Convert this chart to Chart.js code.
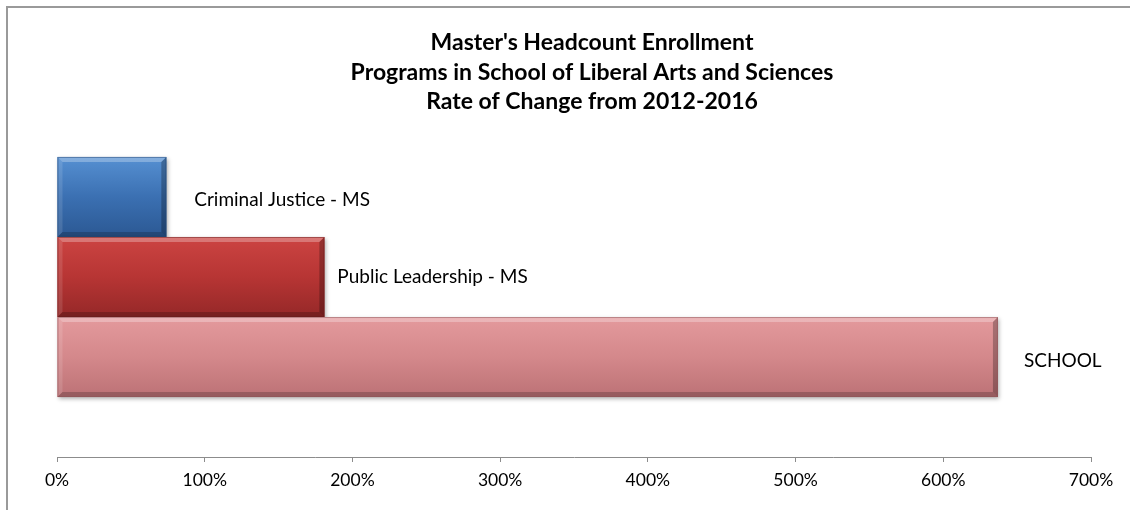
<!DOCTYPE html>
<html>
<head>
<meta charset="utf-8">
<script src="https://cdn.jsdelivr.net/npm/chart.js@4/dist/chart.umd.min.js"></script>
<style>
  html, body { margin: 0; padding: 0; background: #ffffff; }
  #wrap { position: relative; width: 1130px; height: 510px; }
  canvas { display: block; }
</style>
</head>
<body>
<div id="wrap"><canvas id="c" width="1130" height="510"></canvas></div>
<script>
// ---- data ----
const categories = ['2012-2016'];
const seriesNames = ['Criminal Justice - MS', 'Public Leadership - MS', 'SCHOOL'];
const seriesValues = [74, 181, 637];          // rate of change, percent
const xTickValues = [0, 100, 200, 300, 400, 500, 600, 700];
const xTickLabels = ['0%', '100%', '200%', '300%', '400%', '500%', '600%', '700%'];
const titleLines = ["Master's Headcount Enrollment", 'Programs in School of Liberal Arts and Sciences', 'Rate of Change from 2012-2016'];

// ---- styles ----
const barStyles = [
  { top: '#5690d2', mid: '#3b70b2', bottom: '#2b5893', edge: '#24497a', label: 28, dy: 3 },
  { top: '#cc4442', mid: '#b73534', bottom: '#952828', edge: '#6e1d1d', label: 13, dy: 0 },
  { top: '#e49a9d', mid: '#d4888b', bottom: '#bc7276', edge: '#8e5457', label: 26, dy: 4 }
];
const FONT = 'Lato, "Open Sans", sans-serif';

const frameTitlePlugin = {
  id: 'frameTitle',
  beforeDraw(chart) {
    const ctx = chart.ctx;
    ctx.save();
    ctx.fillStyle = '#ffffff';
    ctx.fillRect(0, 0, chart.width, chart.height);
    ctx.strokeStyle = '#9a9a9a';
    ctx.lineWidth = 2;
    ctx.beginPath();
    ctx.moveTo(7, chart.height + 5);
    ctx.lineTo(7, 7);
    ctx.lineTo(chart.width + 5, 7);
    ctx.stroke();
    ctx.fillStyle = '#000000';
    ctx.font = 'bold 23px ' + FONT;
    ctx.textAlign = 'center';
    ctx.textBaseline = 'middle';
    titleLines.forEach((t, i) => ctx.fillText(t, 592, 43 + i * 29.4));
    ctx.restore();
  }
};

const bevelBarsPlugin = {
  id: 'bevelBars',
  afterDatasetsDraw(chart) {
    const ctx = chart.ctx;
    chart.data.datasets.forEach((ds, di) => {
      const meta = chart.getDatasetMeta(di);
      const st = barStyles[di];
      meta.data.forEach((el) => {
        const p = el.getProps(['x', 'y', 'base', 'height'], true);
        const x0 = Math.min(p.base, p.x), x1 = Math.max(p.base, p.x);
        const y0 = p.y - p.height / 2, y1 = p.y + p.height / 2;
        const w = x1 - x0, h = y1 - y0;
        ctx.save();
        ctx.shadowColor = 'rgba(0,0,0,0.3)';
        ctx.shadowBlur = 4;
        ctx.shadowOffsetX = 1.5;
        ctx.shadowOffsetY = 2;
        const g = ctx.createLinearGradient(0, y0, 0, y1);
        g.addColorStop(0, st.top);
        g.addColorStop(0.5, st.mid);
        g.addColorStop(1, st.bottom);
        ctx.fillStyle = g;
        ctx.fillRect(x0, y0, w, h);
        ctx.restore();
        ctx.save();
        const b = 5;
        ctx.fillStyle = 'rgba(255,255,255,0.28)';
        ctx.beginPath();
        ctx.moveTo(x0, y0); ctx.lineTo(x1, y0); ctx.lineTo(x1 - b, y0 + b); ctx.lineTo(x0 + b, y0 + b); ctx.closePath();
        ctx.fill();
        ctx.fillStyle = 'rgba(255,255,255,0.12)';
        ctx.beginPath();
        ctx.moveTo(x0, y0); ctx.lineTo(x0 + b, y0 + b); ctx.lineTo(x0 + b, y1 - b); ctx.lineTo(x0, y1); ctx.closePath();
        ctx.fill();
        ctx.fillStyle = 'rgba(0,0,0,0.2)';
        ctx.beginPath();
        ctx.moveTo(x0, y1); ctx.lineTo(x0 + b, y1 - b); ctx.lineTo(x1 - b, y1 - b); ctx.lineTo(x1, y1); ctx.closePath();
        ctx.fill();
        ctx.fillStyle = 'rgba(0,0,0,0.26)';
        ctx.beginPath();
        ctx.moveTo(x1, y0); ctx.lineTo(x1, y1); ctx.lineTo(x1 - b, y1 - b); ctx.lineTo(x1 - b, y0 + b); ctx.closePath();
        ctx.fill();
        ctx.strokeStyle = st.edge;
        ctx.globalAlpha = 0.5;
        ctx.lineWidth = 1;
        ctx.strokeRect(x0 + 0.5, y0 + 0.5, w - 1, h - 1);
        ctx.restore();
        ctx.save();
        ctx.fillStyle = '#000000';
        ctx.font = '19px ' + FONT;
        ctx.textAlign = 'left';
        ctx.textBaseline = 'middle';
        ctx.fillText(ds.label, x1 + st.label, p.y + st.dy);
        ctx.restore();
      });
    });
  }
};

new Chart(document.getElementById('c'), {
  type: 'bar',
  data: {
    labels: categories,
    datasets: seriesNames.map((name, i) => ({
      label: name,
      data: [seriesValues[i]],
      backgroundColor: barStyles[i].mid,
      borderWidth: 0,
      categoryPercentage: 0.667,
      barPercentage: 1.0
    }))
  },
  options: {
    indexAxis: 'y',
    responsive: false,
    animation: false,
    devicePixelRatio: 1,
    layout: { padding: { top: 97, left: 57, right: 39, bottom: 11 } },
    plugins: {
      legend: { display: false },
      title: { display: false },
      tooltip: { enabled: false }
    },
    scales: {
      x: {
        min: 0,
        max: 700,
        afterBuildTicks(scale) { scale.ticks = xTickValues.map(v => ({ value: v })); },
        ticks: {
          color: '#000000',
          font: { family: FONT, size: 17.5 },
          padding: 8,
          maxRotation: 0,
          callback: (v) => xTickLabels[xTickValues.indexOf(v)]
        },
        grid: { drawOnChartArea: false, drawTicks: true, tickLength: 5, color: '#8c8c8c', lineWidth: 1 },
        border: { display: true, color: '#8c8c8c', width: 1 }
      },
      y: {
        display: false,
        offset: true
      }
    }
  },
  plugins: [frameTitlePlugin, bevelBarsPlugin]
});
</script>
</body>
</html>
